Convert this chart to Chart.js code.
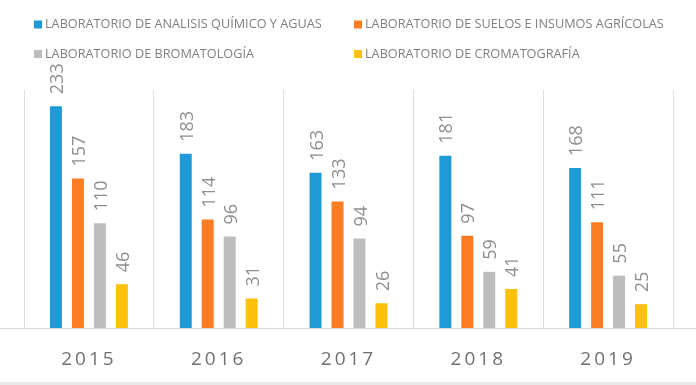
<!DOCTYPE html>
<html>
<head>
<meta charset="utf-8">
<script src="https://cdn.jsdelivr.net/npm/chart.js@4/dist/chart.umd.min.js"></script>
<style>
  html, body { margin: 0; padding: 0; background: #ffffff; }
  #wrap { width: 696px; height: 385px; position: relative; }
</style>
</head>
<body>
<div id="wrap"><canvas id="c"></canvas></div>
<script>
const categories = ['2015', '2016', '2017', '2018', '2019'];
const seriesNames = [
  'LABORATORIO DE ANALISIS QUÍMICO Y AGUAS',
  'LABORATORIO DE SUELOS E INSUMOS AGRÍCOLAS',
  'LABORATORIO DE BROMATOLOGÍA',
  'LABORATORIO DE CROMATOGRAFÍA'
];
const analisisQuimico = [233, 183, 163, 181, 168];
const suelosInsumos = [157, 114, 133, 97, 111];
const bromatologia = [110, 96, 94, 59, 55];
const cromatografia = [46, 31, 26, 41, 25];
const seriesColors = ['#1f9ad6', '#fb7c22', '#bdbdbd', '#fdc00b'];
const yMax = 250;

const seriesValues = [analisisQuimico, suelosInsumos, bromatologia, cromatografia];

const baselinePlugin = {
  id: 'baseline',
  beforeDraw(chart) {
    const ctx = chart.ctx;
    ctx.save();
    ctx.fillStyle = '#ffffff';
    ctx.fillRect(0, 0, chart.width, chart.height);
    ctx.fillStyle = '#e9e9e9';
    ctx.fillRect(0, chart.height - 3, chart.width, 3);
    ctx.restore();
    ctx.letterSpacing = '3px';
  },
  beforeDatasetsDraw(chart) {
    const ctx = chart.ctx;
    const y = Math.round(chart.scales.y.getPixelForValue(0)) + 0.5;
    ctx.save();
    ctx.letterSpacing = '0px';
    ctx.strokeStyle = '#d9d9d9';
    ctx.lineWidth = 1;
    ctx.beginPath();
    ctx.moveTo(0, y);
    ctx.lineTo(chart.width, y);
    ctx.stroke();
    ctx.restore();
  }
};

const valueLabelPlugin = {
  id: 'valueLabels',
  afterDatasetsDraw(chart) {
    const ctx = chart.ctx;
    ctx.save();
    ctx.letterSpacing = '0px';
    ctx.font = '18px "Open Sans"';
    ctx.fillStyle = '#8e8e8e';
    ctx.textAlign = 'left';
    ctx.textBaseline = 'middle';
    chart.data.datasets.forEach((ds, di) => {
      const meta = chart.getDatasetMeta(di);
      meta.data.forEach((bar, i) => {
        ctx.save();
        ctx.translate(bar.x + 2, bar.y - 12);
        ctx.rotate(-Math.PI / 2);
        ctx.fillText(String(ds.data[i]), 0, 0);
        ctx.restore();
      });
    });
    ctx.restore();
  }
};

const legendPlugin = {
  id: 'gridLegend',
  afterDraw(chart) {
    const ctx = chart.ctx;
    ctx.save();
    ctx.letterSpacing = '0px';
    ctx.font = '12.7px "Open Sans"';
    ctx.textAlign = 'left';
    ctx.textBaseline = 'middle';
    const colX = [34, 354];
    const rowY = [24.5, 54];
    chart.data.datasets.forEach((ds, di) => {
      const x = colX[di % 2];
      const y = rowY[Math.floor(di / 2)];
      ctx.fillStyle = ds.backgroundColor;
      ctx.fillRect(x, y - 4, 8, 8);
      ctx.fillStyle = '#7f7f7f';
      ctx.fillText(ds.label, x + 11, y);
    });
    ctx.restore();
    ctx.letterSpacing = '0px';
  }
};

new Chart(document.getElementById('c'), {
  type: 'bar',
  data: {
    labels: categories,
    datasets: seriesNames.map((name, i) => ({
      label: name,
      data: seriesValues[i],
      backgroundColor: seriesColors[i],
      borderWidth: 0,
      categoryPercentage: 0.677,
      barPercentage: 0.545
    }))
  },
  options: {
    responsive: true,
    maintainAspectRatio: false,
    animation: false,
    devicePixelRatio: 1,
    layout: { padding: { left: 24, right: 23, top: 90, bottom: 0 } },
    plugins: {
      legend: { display: false },
      tooltip: { enabled: false }
    },
    scales: {
      x: {
        grid: { display: true, offset: true, color: '#dedede', lineWidth: 1, drawTicks: false },
        border: { display: false },
        ticks: {
          color: '#707070',
          font: { family: 'Open Sans', size: 19 },
          padding: 20
        },
        afterFit(scale) { scale.height = 57; }
      },
      y: {
        display: false,
        min: 0,
        max: yMax
      }
    }
  },
  plugins: [baselinePlugin, valueLabelPlugin, legendPlugin]
});
</script>
</body>
</html>
